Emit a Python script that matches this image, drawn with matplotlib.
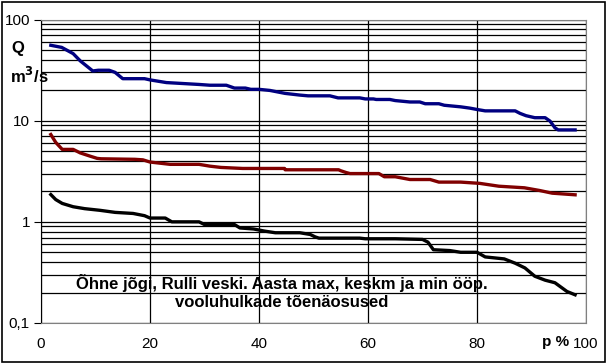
import matplotlib
matplotlib.use("Agg")
import matplotlib.pyplot as plt
from matplotlib.patches import Rectangle
from matplotlib.ticker import LogLocator, NullFormatter

plt.rcParams['font.family'] = ['Liberation Sans', 'DejaVu Sans']

# max series (blue)
p_max = [1.8, 3.8, 5.9, 7.2, 9.5, 10.5, 12.5, 13.6, 15, 19, 20, 23, 29, 31, 34, 35.5, 37.5,
         38.5, 40, 42, 44.8, 47.5, 49, 53, 54.5, 58.5, 59.5, 61, 61.5, 64, 65, 67.7, 69.5,
         70.5, 73, 74, 77, 78.7, 80, 81.5, 87, 87.9, 89, 90.6, 92.5, 93.4, 94.3, 94.9, 98]
q_max = [55.6, 53, 46, 39, 31, 31.5, 31.5, 30, 26, 26, 25.3, 23.8, 22.8, 22.4, 22.4, 21, 21,
         20.4, 20.4, 19.9, 18.6, 17.9, 17.6, 17.6, 16.8, 16.8, 16.4, 16.4, 16.2, 16.2, 15.8, 15.3, 15.3,
         14.7, 14.7, 14.2, 13.7, 13.3, 12.9, 12.5, 12.5, 11.8, 11.2, 10.7, 10.7, 9.9, 8.5, 8.1, 8.1]

# mean series (dark red)
p_mean = [1.8, 2.7, 3.9, 5.9, 7.2, 9, 10.3, 11, 17.2, 18.7, 20, 23.7, 29, 31, 33, 37, 44.7,
          44.8, 54.6, 55, 56, 56.7, 62, 63, 65, 67.7, 71.4, 73, 77, 80.5, 84, 88.7, 91.5, 93.8, 98]
q_mean = [7.3, 6.1, 5.2, 5.2, 4.8, 4.46, 4.24, 4.2, 4.15, 4.1, 3.9, 3.7, 3.7, 3.55, 3.45, 3.37, 3.37,
          3.27, 3.27, 3.2, 3.07, 3.0, 3.0, 2.79, 2.79, 2.62, 2.62, 2.47, 2.47, 2.4, 2.25, 2.17, 2.04, 1.92, 1.85]

# min series (black)
p_min = [1.8, 2.7, 3.9, 5.9, 8, 10.8, 13.6, 16.9, 19, 20, 22.8, 24, 29, 30, 35.5, 36.5, 39, 41,
         43, 47.5, 49.4, 50.3, 51, 58.5, 59.5, 65, 70, 71, 72, 75, 77, 80, 81.5, 85, 87, 88.8,
         90.6, 92.5, 94.3, 96.5, 98]
q_min = [1.86, 1.66, 1.52, 1.41, 1.35, 1.30, 1.24, 1.21, 1.15, 1.09, 1.09, 1.0, 1.0, 0.94, 0.94, 0.87,
         0.85, 0.81, 0.78, 0.78, 0.75, 0.71, 0.69, 0.69, 0.68, 0.68, 0.67, 0.63, 0.53, 0.52, 0.50, 0.50,
         0.45, 0.43, 0.39, 0.35, 0.29, 0.265, 0.25, 0.205, 0.19]

x_ticks = [0, 20, 40, 60, 80, 100]
y_ticks = [0.1, 1, 10, 100]
y_labels = ["0,1", "1", "10", "100"]

fig = plt.figure(figsize=(6.06, 3.63), dpi=100)
ax = fig.add_axes([41/606, 1 - 323/363, 545/606, 303.5/363])

ax.plot(p_max, q_max, color='#000080', lw=2.4, solid_joinstyle='round')
ax.plot(p_mean, q_mean, color='#800000', lw=2.4, solid_joinstyle='round')
ax.plot(p_min, q_min, color='#000000', lw=2.4, solid_joinstyle='round')

ax.set_yscale('log')
ax.set_xlim(0, 100)
ax.set_ylim(0.1, 100)
ax.set_yticks(y_ticks)
ax.set_yticklabels(y_labels)
ax.yaxis.set_minor_locator(LogLocator(base=10, subs=range(2, 10)))
ax.yaxis.set_minor_formatter(NullFormatter())
ax.set_xticks(x_ticks)
ax.set_xticklabels([str(v) for v in x_ticks])

ax.grid(True, which='both', axis='y', color='black', lw=0.9)
ax.xaxis.grid(True, color='black', lw=0.9)
ax.set_axisbelow(True)

ax.tick_params(axis='x', length=0, pad=10, labelsize=11)
ax.tick_params(axis='y', which='major', length=5, direction='out', labelsize=11, pad=3)
ax.tick_params(axis='y', which='minor', length=0)

for s in ['top', 'right', 'bottom']:
    ax.spines[s].set_color('#808080')
ax.spines['left'].set_color('black')

ax.text((282 - 41) / 545, (323 - 292) / 303.5,
        "Õhne jõgi, Rulli veski. Aasta max, keskm ja min ööp.\nvooluhulkade tõenäosused",
        transform=ax.transAxes, ha='center', va='center', fontsize=12, fontweight='bold',
        linespacing=1.3)

fig.text(18/606, 1 - 48/363, "Q", ha='center', va='center', fontsize=12, fontweight='bold')
fig.text(29/606, 1 - 76/363, "m$^\\mathbf{3}$/s", ha='center', va='center', fontsize=12, fontweight='bold')
fig.text(569/606, 1 - 342/363, "p %", ha='right', va='center', fontsize=11, fontweight='bold')

fig.patches.append(Rectangle((1.5/606, 1.5/363), 603/606, 359.5/363, transform=fig.transFigure,
                             fill=False, edgecolor='black', lw=1.2))

fig.savefig('out.png', dpi=100)
